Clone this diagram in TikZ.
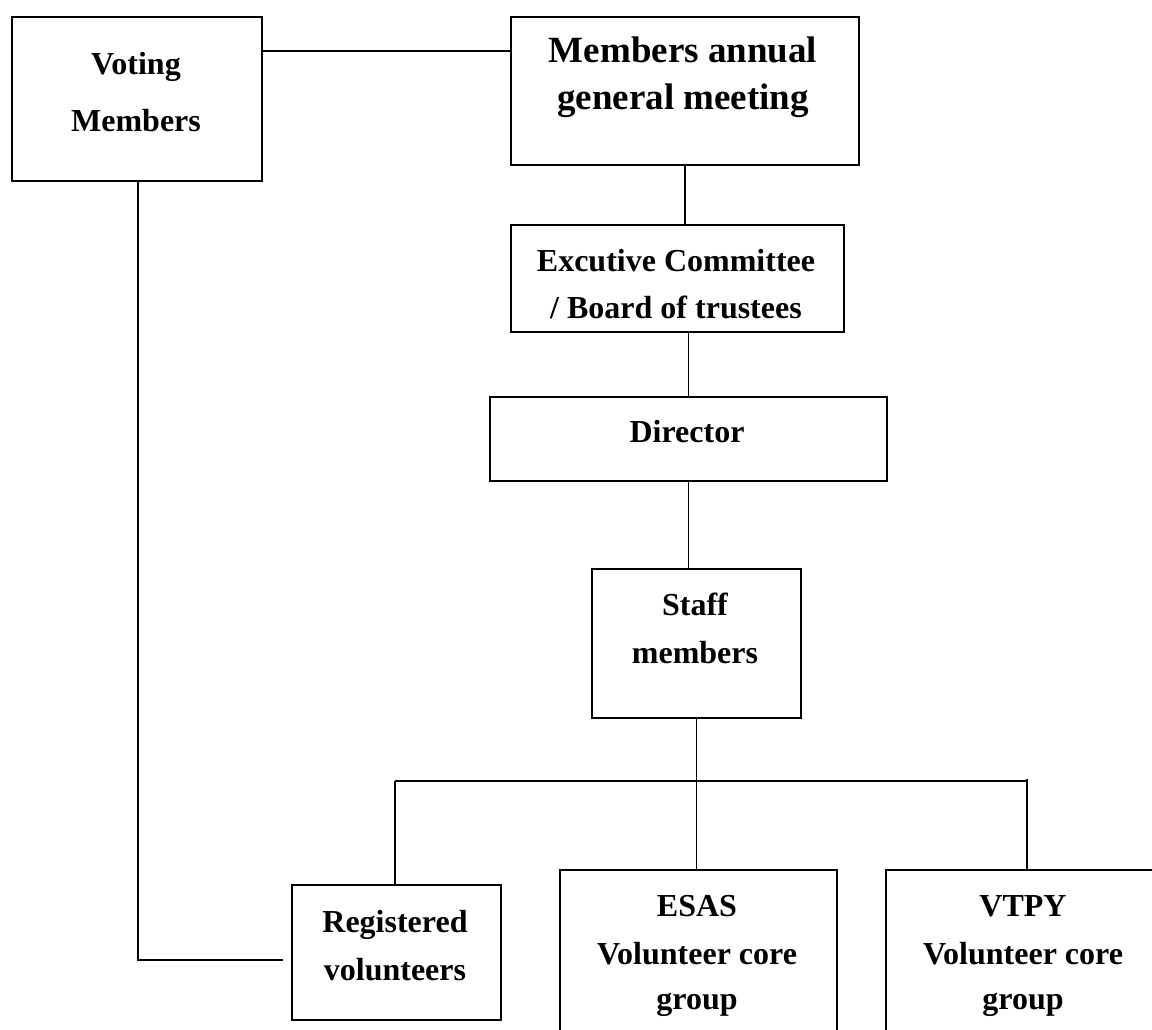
\documentclass[tikz,border=0pt]{standalone}
\usepackage{fontspec}
\setmainfont{Liberation Serif}
\begin{document}
\begin{tikzpicture}[x=1pt,y=1pt,
  box/.style={draw=black, line width=1.8pt, inner sep=0pt, anchor=north west},
  conn/.style={draw=black, line width=1.8pt},
  txt/.style={anchor=base, inner sep=0pt, font=\bfseries\fontsize{32}{38}\selectfont},
  bigtxt/.style={anchor=base, inner sep=0pt, font=\bfseries\fontsize{37}{44}\selectfont}]
\useasboundingbox (0,0) rectangle (1152,-1030);
\clip (0,0) rectangle (1152,-1030);
% boxes
\node[box, minimum width=250pt, minimum height=164pt] (vm) at (11,-16) {};
\node[box, minimum width=348pt, minimum height=148pt] (magm) at (510,-16) {};
\node[box, minimum width=333pt, minimum height=107pt] (ec) at (510,-224) {};
\node[box, minimum width=397pt, minimum height=84pt] (dir) at (489,-396) {};
\node[box, minimum width=209pt, minimum height=149pt] (staff) at (591,-568) {};
\node[box, minimum width=209pt, minimum height=135pt] (reg) at (291,-884) {};
\node[box, minimum width=277pt, minimum height=180pt] (esas) at (559,-869) {};
\node[box, minimum width=277pt, minimum height=180pt] (vtpy) at (885,-869) {};
% texts
\node[txt] (vm1) at (136,-75) {Voting};
\node[txt] (vm2) at (136,-132) {Members};
\node[bigtxt] (magm1) at (683,-63) {Members annual};
\node[bigtxt] (magm2) at (683,-110) {general meeting};
\node[txt] (ec1) at (676,-271) {Excutive Committee};
\node[txt] (ec2) at (676,-318) {/ Board of trustees};
\node[txt] (dir1) at (687,-442) {Director};
\node[txt] (st1) at (695,-615) {Staff};
\node[txt] (st2) at (695,-663) {members};
\node[txt] (reg1) at (395,-932) {Registered};
\node[txt] (reg2) at (395,-980) {volunteers};
\node[txt] (es1) at (697,-916) {ESAS};
\node[txt] (es2) at (697,-964) {Volunteer core};
\node[txt] (es3) at (697,-1009) {group};
\node[txt] (vt1) at (1023,-916) {VTPY};
\node[txt] (vt2) at (1023,-964) {Volunteer core};
\node[txt] (vt3) at (1023,-1009) {group};
% coordinates
\coordinate (busL) at (395,-781);
\coordinate (busR) at (1027,-781);
\coordinate (vmdown) at (138,-180);
\coordinate (vend) at (283,-960);
% connectors
\draw[conn] (vm.east |- 0,-51) -- (magm.west |- 0,-51);
\draw[conn] (magm.south) -- (magm.south |- ec.north);
\draw[conn] (dir.north |- ec.south) -- (dir.north);
\draw[conn] (dir.south) -- (dir.south |- staff.north);
\draw[conn] (staff.south) -- (staff.south |- esas.north);
\draw[conn] (busL) -- (busR);
\draw[conn] (busL) -- (busL |- reg.north);
\draw[conn] ([yshift=2pt]busR) -- (busR |- vtpy.north);
\draw[conn] (vmdown) |- (vend);
\end{tikzpicture}
\end{document}
